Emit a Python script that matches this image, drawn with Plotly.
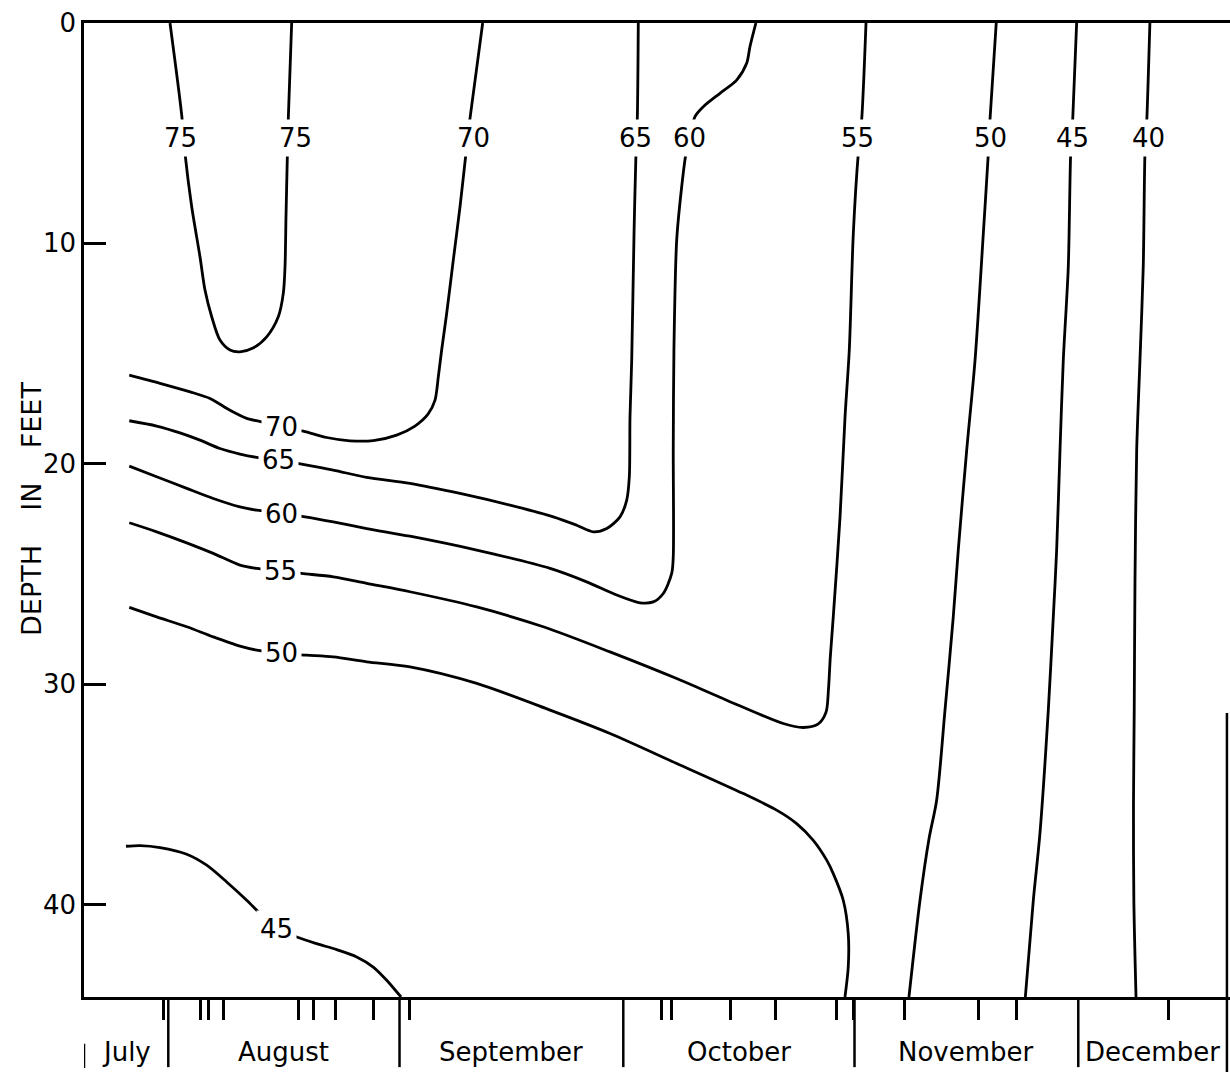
import plotly.graph_objects as go

FONT = "DejaVu Sans"

# ---- x: days after June 30 (Aug 1 = 31) ; y: depth in feet ----
x_range = [19.70, 173.34]
y_range = [44.2, 0]

depth_ticks = [0, 10, 20, 30, 40]

month_names = ["July", "August", "September", "October", "November", "December"]
month_edges = [19.70, 31, 62, 92, 123, 153, 172.93]   # start of each month box, end of December box

sample_days = [30.33, 35.38, 36.45, 38.46, 48.52, 50.44, 53.44, 58.48, 63.40,
               97.16, 98.51, 106.36, 112.43, 120.58, 122.83, 129.70, 139.63,
               144.71, 165.03]

# ---- isotherms (deg F) ----
iso75_day = [31.23, 32.8, 33.24, 34.14, 35.25, 35.92, 36.82, 37.93, 39.27, 40.61,
             42.36, 44.19, 45.75, 46.42, 46.65, 46.78, 46.95, 47.09, 47.54]
iso75_depth = [0, 4.18, 5.91, 8.34, 10.61, 12.12, 13.33, 14.39, 14.84, 14.92,
               14.75, 14.24, 13.33, 12.27, 11.06, 8.79, 6.22, 4.33, 0]

iso70_day = [25.77, 29.89, 33.93, 36.59, 39.27, 41.51, 43.52, 46.20, 49.10, 52.24,
             55.36, 58.48, 61.62, 64.07, 65.82, 66.76, 67.20, 67.65, 68.32, 69.21,
             70.11, 70.91, 71.45, 73.15]
iso70_depth = [15.98, 16.35, 16.74, 17.04, 17.57, 17.94, 18.10, 18.34, 18.52, 18.81,
               18.96, 18.95, 18.70, 18.29, 17.75, 17.11, 16.06, 14.84, 13.18, 10.76,
               8.34, 5.91, 4.33, 0]

iso65_day = [25.77, 29.44, 32.57, 35.25, 37.93, 40.61, 42.85, 45.75, 48.88, 53.12,
             57.60, 63.40, 70.11, 76.81, 82.62, 85.75, 87.98, 89.78, 91.56, 92.46,
             92.81, 92.90, 93.13, 93.44, 93.70, 93.88, 94.01]
iso65_depth = [18.05, 18.29, 18.60, 18.93, 19.31, 19.56, 19.71, 19.84, 20.02, 20.29,
               20.62, 20.89, 21.35, 21.88, 22.41, 22.79, 23.09, 22.94, 22.41, 21.65,
               20.59, 17.87, 15.30, 9.55, 5.91, 4.33, 0]

iso60_day = [25.77, 29.44, 33.47, 37.03, 40.61, 42.85, 46.20, 49.33, 53.12, 57.60,
             63.40, 72.35, 82.19, 87.09, 91.12, 94.24, 96.02, 97.36, 98.49, 98.70,
             98.70, 98.79, 99.16, 99.83, 100.41, 100.94, 101.61, 102.72, 104.96,
             107.20, 108.54, 108.98, 109.78]
iso60_depth = [20.11, 20.59, 21.12, 21.58, 21.96, 22.11, 22.26, 22.41, 22.64, 22.94,
               23.29, 23.92, 24.75, 25.36, 25.96, 26.31, 26.27, 25.89, 24.98, 24.23,
               19.38, 14.84, 9.85, 7.43, 5.91, 5.16, 4.25, 3.80, 3.19,
               2.59, 1.83, 1.08, 0]

iso55_day = [25.77, 29.44, 33.47, 37.03, 40.61, 42.85, 45.97, 48.88, 53.12, 57.60,
             63.40, 72.35, 81.27, 90.22, 99.16, 105.86, 113.45, 116.13, 118.10, 119.18,
             119.50, 119.75, 120.15, 121.06, 121.73, 122.30, 122.84, 123.51, 123.96, 124.54]
iso55_depth = [22.68, 23.09, 23.59, 24.07, 24.60, 24.75, 24.86, 24.98, 25.13, 25.43,
               25.81, 26.50, 27.40, 28.54, 29.75, 30.73, 31.79, 31.97, 31.82, 31.28,
               30.28, 28.80, 26.95, 22.41, 17.87, 14.84, 9.55, 5.91, 4.40, 0]

iso50a_day = [25.77, 29.44, 33.47, 37.03, 40.61, 42.85, 46.20, 49.55, 53.12, 57.60,
              63.40, 72.35, 82.19, 90.22, 99.16, 108.09, 112.56, 115.24, 117.47, 119.27,
              120.15, 121.49, 122.16, 122.16, 121.72]
iso50a_depth = [26.52, 26.95, 27.40, 27.86, 28.28, 28.46, 28.61, 28.69, 28.77, 28.99,
                29.22, 29.97, 31.18, 32.24, 33.60, 34.97, 35.72, 36.33, 37.09, 37.99,
                38.60, 39.81, 41.32, 42.84, 44.2]

iso50b_day = [142.0, 141.16, 140.94, 140.27, 139.16, 138.04, 136.91, 136.24, 135.13,
              134.01, 133.0, 131.78, 130.3]
iso50b_depth = [0, 4.40, 5.91, 9.55, 15.30, 19.38, 23.92, 26.95, 31.18,
                35.27, 37.0, 39.81, 44.2]

iso45a_day = [25.33, 27.21, 29.89, 33.47, 36.15, 38.83, 41.51, 43.29, 45.53, 48.21,
              50.90, 53.58, 56.26, 58.48, 60.28, 62.2]
iso45a_depth = [37.36, 37.33, 37.42, 37.72, 38.22, 38.98, 39.81, 40.41, 41.09, 41.48,
                41.78, 42.05, 42.38, 42.84, 43.44, 44.2]

iso45b_day = [152.78, 152.25, 151.98, 151.66, 150.99, 150.55, 150.10, 149.65, 148.98,
              147.86, 146.97, 145.9]
iso45b_depth = [0, 4.40, 5.91, 11.06, 15.30, 19.38, 23.92, 26.95, 31.18,
                36.78, 39.81, 44.2]

iso40_day = [162.60, 162.17, 161.94, 161.71, 161.27, 160.83, 160.60, 160.50, 160.40,
             160.45, 160.74]
iso40_depth = [0, 4.55, 5.91, 11.06, 15.30, 19.38, 25.43, 31.18, 35.5, 39.81, 44.2]

# contour labels: text, day, depth
label_text = ["75", "75", "70", "65", "60", "55", "50", "45", "40",
              "70", "65", "60", "55", "50", "45"]
label_day = [32.6, 48.0, 71.9, 93.7, 100.9, 123.4, 141.2, 152.2, 162.4,
             46.2, 45.75, 46.2, 46.0, 46.2, 45.5]
label_depth = [5.2, 5.2, 5.2, 5.2, 5.2, 5.2, 5.2, 5.2, 5.2,
               18.34, 19.84, 22.26, 24.86, 28.61, 41.1]

lines = [
    (iso75_day, iso75_depth), (iso70_day, iso70_depth), (iso65_day, iso65_depth),
    (iso60_day, iso60_depth), (iso55_day, iso55_depth), (iso50a_day, iso50a_depth),
    (iso50b_day, iso50b_depth), (iso45a_day, iso45a_depth), (iso45b_day, iso45b_depth),
    (iso40_day, iso40_depth),
]

fig = go.Figure()
for xs, ys in lines:
    fig.add_trace(go.Scatter(
        x=xs, y=ys, mode="lines",
        line=dict(color="black", width=2.8, shape="spline", smoothing=0.8),
        hoverinfo="skip", showlegend=False))

for t, xd, yd in zip(label_text, label_day, label_depth):
    fig.add_annotation(x=xd, y=yd, xref="x", yref="y", text=t, showarrow=False,
                       font=dict(family=FONT, size=26, color="black"),
                       bgcolor="white", borderpad=3)

# month boxes below the axis
for m in month_edges[1:-1]:
    fig.add_shape(type="line", xref="x", yref="paper", x0=m, x1=m, y0=0, y1=-0.072,
                  line=dict(color="black", width=2.5))
fig.add_shape(type="line", xref="x", yref="paper", x0=month_edges[0], x1=month_edges[0],
              y0=-0.048, y1=-0.073, line=dict(color="black", width=2.5))
fig.add_shape(type="line", xref="x", yref="paper", x0=month_edges[-1], x1=month_edges[-1],
              y0=0.2916, y1=-0.08, line=dict(color="black", width=2.5))

for i, name in enumerate(month_names):
    mid = (month_edges[i] + month_edges[i + 1]) / 2
    fig.add_annotation(x=mid, y=-0.0565, xref="x", yref="paper", text=name,
                       showarrow=False, xanchor="center", yanchor="middle",
                       font=dict(family=FONT, size=26, color="black"))

fig.add_annotation(x=-0.0463, y=0.501, xref="paper", yref="paper",
                   text="DEPTH\u00a0\u00a0\u00a0\u00a0IN\u00a0\u00a0\u00a0\u00a0FEET",
                   textangle=-90, showarrow=False, xanchor="center", yanchor="middle",
                   font=dict(family=FONT, size=27, color="black"))

fig.update_xaxes(range=x_range, showline=True, linewidth=2.5, linecolor="black",
                 mirror=True, ticks="outside", tickvals=sample_days, ticklen=20,
                 tickwidth=2.5, tickcolor="black", showticklabels=False,
                 showgrid=False, zeroline=False, automargin=False)
fig.update_yaxes(range=y_range, showline=True, linewidth=2.5, linecolor="black",
                 mirror=False, ticks="inside", tickvals=depth_ticks, ticklen=22,
                 tickwidth=2.5, tickcolor="black",
                 tickfont=dict(family=FONT, size=26, color="black"),
                 showgrid=False, zeroline=False, automargin=False)

fig.update_layout(width=1230, height=1072,
                  margin=dict(l=84, r=0, t=23, b=75),
                  plot_bgcolor="white", paper_bgcolor="white",
                  font=dict(family=FONT, color="black"), showlegend=False)

fig.write_html("out.html")
